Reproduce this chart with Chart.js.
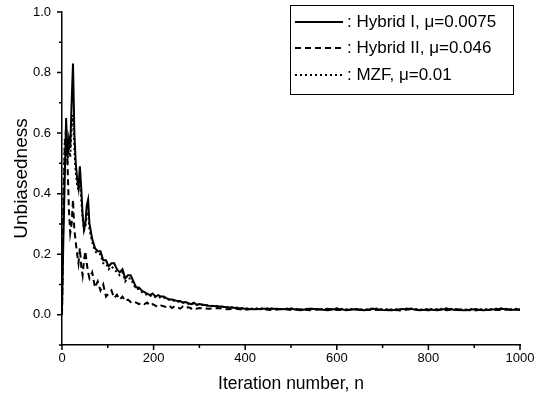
<!DOCTYPE html>
<html>
<head>
<meta charset="utf-8">
<script src="https://cdn.jsdelivr.net/npm/chart.js@4.4.1/dist/chart.umd.min.js"></script>
<style>
  html, body { margin: 0; padding: 0; background: #fff; }
  #wrap { width: 536px; height: 401px; position: relative; }
</style>
</head>
<body>
<div id="wrap"><canvas id="chart"></canvas></div>
<script>
const iterations = [
    0, 3, 6, 9, 12, 15, 18, 21, 24, 27, 30, 33, 36, 39, 42, 45, 48, 51, 54, 57, 60,
    66, 72, 78, 84, 90, 96, 102, 108, 114, 120, 126, 132, 138, 144, 150, 156, 162, 168, 174, 180,
    186, 192, 198, 204, 210, 216, 222, 228, 234, 240, 246, 252, 258, 264, 270, 276, 282, 288, 294, 300,
    320, 340, 360, 380, 400, 420, 440, 460, 480, 500, 520, 540, 560, 580, 600, 620, 640, 660,
    680, 700, 720, 740, 760, 780, 800, 820, 840, 860, 880, 900, 920, 940, 960, 980, 1000
];

const hybrid1 = [
    0.02, 0.25, 0.45, 0.65, 0.52, 0.58, 0.55, 0.70, 0.83, 0.60, 0.50, 0.45, 0.42, 0.49, 0.42, 0.33, 0.28, 0.30, 0.36, 0.38, 0.30,
    0.25, 0.22, 0.21, 0.21, 0.18, 0.18, 0.16, 0.17, 0.17, 0.15, 0.14, 0.15, 0.12, 0.13, 0.13, 0.11, 0.09, 0.09, 0.08, 0.075,
    0.07, 0.065, 0.07, 0.06, 0.065, 0.06, 0.06, 0.055, 0.05, 0.05, 0.048, 0.045, 0.045, 0.04, 0.042, 0.038, 0.035, 0.04, 0.033, 0.035,
    0.03, 0.028, 0.025, 0.022, 0.02, 0.018, 0.02, 0.02, 0.018, 0.02, 0.015, 0.02, 0.018, 0.015, 0.02, 0.016, 0.018, 0.015,
    0.02, 0.016, 0.015, 0.018, 0.02, 0.015, 0.017, 0.015, 0.02, 0.016, 0.015, 0.018, 0.015, 0.017, 0.02, 0.016, 0.018
];

const hybrid2 = [
    0.0, 0.35, 0.55, 0.62, 0.50, 0.35, 0.27, 0.30, 0.38, 0.28, 0.24, 0.20, 0.17, 0.22, 0.16, 0.13, 0.18, 0.21, 0.17, 0.14, 0.12,
    0.14, 0.09, 0.11, 0.08, 0.10, 0.06, 0.07, 0.08, 0.055, 0.066, 0.05, 0.06, 0.045, 0.05, 0.042, 0.045, 0.04, 0.035, 0.04, 0.035,
    0.04, 0.03, 0.035, 0.03, 0.025, 0.03, 0.028, 0.025, 0.03, 0.022, 0.028, 0.025, 0.02, 0.027, 0.022, 0.025, 0.02, 0.024, 0.02, 0.022,
    0.02, 0.022, 0.018, 0.02, 0.016, 0.02, 0.018, 0.015, 0.019, 0.016, 0.018, 0.015, 0.017, 0.02, 0.016, 0.015, 0.018, 0.016,
    0.015, 0.017, 0.016, 0.014, 0.018, 0.016, 0.015, 0.017, 0.015, 0.018, 0.016, 0.014, 0.017, 0.015, 0.016, 0.018, 0.016
];

const mzf = [
    0.0, 0.38, 0.58, 0.55, 0.50, 0.55, 0.52, 0.62, 0.66, 0.55, 0.47, 0.43, 0.41, 0.44, 0.38, 0.32, 0.28, 0.29, 0.33, 0.34, 0.28,
    0.24, 0.21, 0.20, 0.20, 0.17, 0.17, 0.15, 0.16, 0.15, 0.14, 0.13, 0.14, 0.11, 0.12, 0.12, 0.10, 0.085, 0.085, 0.075, 0.07,
    0.065, 0.062, 0.065, 0.058, 0.06, 0.055, 0.057, 0.05, 0.05, 0.047, 0.046, 0.043, 0.043, 0.04, 0.04, 0.036, 0.034, 0.038, 0.032, 0.034,
    0.03, 0.028, 0.025, 0.024, 0.021, 0.02, 0.021, 0.02, 0.019, 0.021, 0.017, 0.02, 0.019, 0.017, 0.021, 0.018, 0.019, 0.017,
    0.021, 0.018, 0.017, 0.019, 0.021, 0.017, 0.019, 0.018, 0.021, 0.018, 0.017, 0.019, 0.018, 0.019, 0.021, 0.018, 0.02
];

const seriesLabels = ['Hybrid I, \u03bc=0.0075', 'Hybrid II, \u03bc=0.046', 'MZF, \u03bc=0.01'];

const FONT = '"Liberation Sans", Arial, Helvetica, sans-serif';

function toPoints(values) {
    return iterations.map((n, i) => ({ x: n, y: values[i] }));
}

// tick marks: long at labelled values, short in between
const tickMarks = {
    id: 'tickMarks',
    afterDraw(chart) {
        const { ctx, scales: { x, y } } = chart;
        ctx.save();
        ctx.strokeStyle = '#000';
        ctx.lineWidth = 1.5;
        ctx.beginPath();
        x.ticks.forEach(t => {
            const px = x.getPixelForValue(t.value);
            const len = t.value % 200 === 0 ? 5 : 3;
            ctx.moveTo(px, y.bottom);
            ctx.lineTo(px, y.bottom + len);
        });
        y.ticks.forEach(t => {
            const py = y.getPixelForValue(t.value);
            const len = Math.round(t.value * 10) % 2 === 0 ? 5 : 3;
            ctx.moveTo(x.left, py);
            ctx.lineTo(x.left - len, py);
        });
        ctx.stroke();
        ctx.restore();
    }
};

// boxed legend in the upper right, as in the figure
const boxLegend = {
    id: 'boxLegend',
    afterDraw(chart) {
        const ctx = chart.ctx;
        const left = 290, top = 5, right = 513, bottom = 94;
        const rows = [22, 48, 75];
        ctx.save();
        ctx.strokeStyle = '#000';
        ctx.lineWidth = 1;
        ctx.strokeRect(left + 0.5, top + 0.5, right - left, bottom - top);
        chart.data.datasets.forEach((ds, i) => {
            ctx.beginPath();
            ctx.setLineDash(ds.borderDash || []);
            ctx.lineWidth = ds.borderWidth;
            ctx.moveTo(295, rows[i]);
            ctx.lineTo(343, rows[i]);
            ctx.stroke();
            ctx.setLineDash([]);
            ctx.fillStyle = '#000';
            ctx.font = '17px ' + FONT;
            ctx.textBaseline = 'middle';
            ctx.fillText(': ' + ds.label, 347, rows[i]);
        });
        ctx.restore();
    }
};

new Chart(document.getElementById('chart'), {
    type: 'line',
    data: {
        datasets: [
            { label: seriesLabels[0], data: toPoints(hybrid1), borderColor: '#000', borderWidth: 2, borderDash: [], order: 0 },
            { label: seriesLabels[1], data: toPoints(hybrid2), borderColor: '#000', borderWidth: 2, borderDash: [6, 4], order: 1 },
            { label: seriesLabels[2], data: toPoints(mzf), borderColor: '#000', borderWidth: 2, borderDash: [2, 3], order: 2 }
        ]
    },
    options: {
        responsive: true,
        maintainAspectRatio: false,
        animation: false,
        devicePixelRatio: 1,
        layout: { padding: { top: 12, right: 16, left: 0, bottom: 0 } },
        elements: { point: { radius: 0 }, line: { tension: 0 } },
        plugins: { legend: { display: false }, tooltip: { enabled: false } },
        scales: {
            x: {
                type: 'linear',
                min: 0,
                max: 1000,
                grid: { display: false, drawTicks: false },
                border: { display: true, color: '#000', width: 1.5 },
                ticks: {
                    stepSize: 100,
                    autoSkip: false,
                    maxRotation: 0,
                    color: '#000',
                    padding: 6,
                    font: { family: FONT, size: 13 },
                    callback: v => (v % 200 === 0 ? String(v) : '')
                },
                title: {
                    display: true,
                    text: 'Iteration number, n',
                    color: '#000',
                    font: { family: FONT, size: 17.5 },
                    padding: { top: 0, bottom: 6 }
                },
                afterFit: s => {
                    s.height = 56;
                    s.paddingLeft = 0;
                    s.paddingRight = 0;
                }
            },
            y: {
                min: -0.1,
                max: 1.0,
                grid: { display: false, drawTicks: false },
                border: { display: true, color: '#000', width: 1.5 },
                ticks: {
                    stepSize: 0.1,
                    autoSkip: false,
                    color: '#000',
                    padding: 11,
                    font: { family: FONT, size: 13 },
                    callback: v => {
                        const k = Math.round(v * 10);
                        return (k >= 0 && k % 2 === 0) ? (k / 10).toFixed(1) : '';
                    }
                },
                title: {
                    display: true,
                    text: 'Unbiasedness',
                    color: '#000',
                    font: { family: FONT, size: 19 },
                    padding: { top: 10, bottom: 0 }
                },
                afterFit: s => {
                    s.width = 62;
                    s.paddingTop = 0;
                    s.paddingBottom = 0;
                }
            }
        }
    },
    plugins: [tickMarks, boxLegend]
});
</script>
</body>
</html>
